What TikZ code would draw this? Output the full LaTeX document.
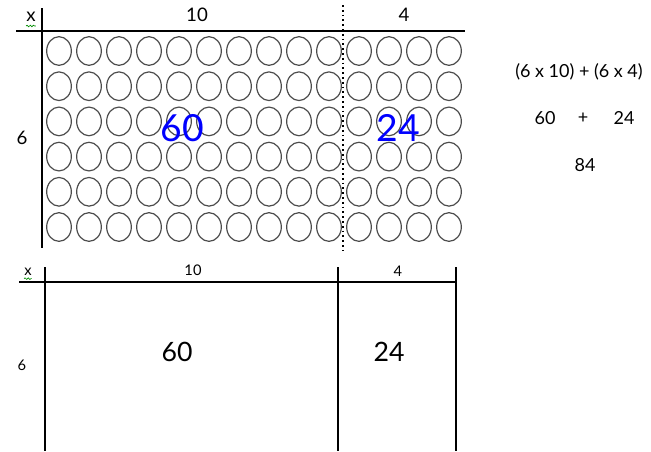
\documentclass[tikz,border=0pt]{standalone}
\usepackage{fontspec}
\setmainfont{Lato}
\usetikzlibrary{positioning,shapes.geometric,decorations.pathmorphing}
\tikzset{
  axisline/.style={line width=2pt, black},
  boxline/.style={line width=1.7pt, black},
  splitline/.style={line width=1.4pt, dash pattern=on 1.3pt off 2.3pt},
  counter/.style={draw=black!70, line width=0.9pt, ellipse, inner sep=0pt, minimum width=18.5pt, minimum height=21.5pt},
  headlabel/.style={font=\fontsize{14}{14}\selectfont, inner sep=0pt},
  biglabel/.style={font=\fontsize{28}{28}\selectfont, text=blue, inner sep=0pt},
  boxlabel/.style={font=\fontsize{20}{20}\selectfont, inner sep=0pt},
  sumlabel/.style={font=\fontsize{11}{11}\selectfont, inner sep=0pt},
  worklabel/.style={font=\fontsize{13.5}{13.5}\selectfont, inner sep=0pt},
  squiggle/.style={draw=green!55!black, line width=0.5pt, decorate, decoration={snake, amplitude=0.6pt, segment length=2.4pt}}
}
\begin{document}
\begin{tikzpicture}[x=0.75pt, y=-0.75pt]
  \useasboundingbox (0,0) rectangle (651,451);
  % array of counters
  \coordinate (top-left) at (16,31);
  \coordinate (top-right) at (465,31);
  \coordinate (top-up) at (42,8);
  \coordinate (top-down) at (42,248);
  \coordinate (cut-up) at (343,5);
  \coordinate (cut-down) at (343,250);
  \draw[axisline] (top-left) -- (top-right);
  \draw[axisline] (top-up) -- (top-down);
  \foreach \r in {0,...,5}
    \foreach \c in {0,...,13}
      \node[counter] (dot-\r-\c) at ({59+30*\c},{51+35.2*\r}) {};
  \draw[splitline] (cut-up) -- (cut-down);
  \node[headlabel] (times1) at (31,17) {x};
  \draw[squiggle] ([yshift=-3pt]times1.south west) -- ([yshift=-3pt]times1.south east);
  \node[headlabel] (ten1) at (197,15) {10};
  \node[headlabel] (four1) at (404,15) {4};
  \node[headlabel] (six1) at (22,138) {6};
  \node[biglabel] (sixty1) at (182,128) {60};
  \node[biglabel] (twentyfour1) at (398,128) {24};

  % area model
  \coordinate (bot-left) at (19,282);
  \coordinate (bot-right) at (456,282);
  \coordinate (a-up) at (45,267);
  \coordinate (a-down) at (45,451);
  \coordinate (b-up) at (338,267);
  \coordinate (b-down) at (338,451);
  \coordinate (c-up) at (456,267);
  \coordinate (c-down) at (456,451);
  \draw[boxline] (bot-left) -- (bot-right);
  \draw[boxline] (a-up) -- (a-down);
  \draw[boxline] (b-up) -- (b-down);
  \draw[boxline] (c-up) -- (c-down);
  \node[sumlabel] (times2) at (28,272) {x};
  \draw[squiggle] ([yshift=-2pt]times2.south west) -- ([yshift=-2pt]times2.south east);
  \node[sumlabel] (ten2) at (193,270) {10};
  \node[sumlabel] (four2) at (398,271) {4};
  \node[sumlabel] (six2) at (22,365) {6};
  \node[boxlabel] (sixty2) at (177,352) {60};
  \node[boxlabel] (twentyfour2) at (389,352) {24};

  % working
  \node[worklabel] (split) at (579,72) {(6 x 10) + (6 x 4)};
  \node[worklabel] (part1) at (545,118) {60};
  \node[worklabel] (plus) at (583,118) {+};
  \node[worklabel] (part2) at (624,118) {24};
  \node[worklabel] (total) at (585,165) {84};
\end{tikzpicture}
\end{document}
